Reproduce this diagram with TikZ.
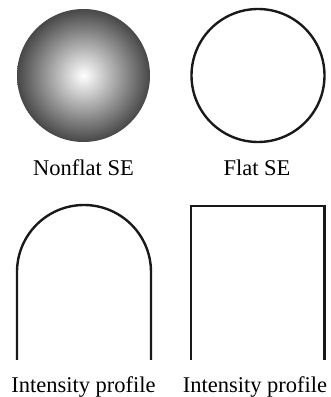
\documentclass[tikz,border=0pt]{standalone}
\usepackage{fontspec}
\setmainfont{Liberation Serif}
\pgfdeclareradialshading{sesphere}{\pgfpoint{0bp}{0bp}}{color(0bp)=(white); color(25bp)=(black!72); color(50bp)=(black!72)}
\tikzset{
  profile/.style={line width=2.4pt, line cap=butt, black!90},
  caption/.style={anchor=base, font=\fontsize{22.5}{26}\selectfont, inner sep=0pt}
}

\begin{document}
\begin{tikzpicture}[x=1pt,y=1pt]
\useasboundingbox (0,0) rectangle (330,397);
% structuring elements
\shade[shading=sesphere] (83.5,321.5) circle (66.5);
\draw[profile] (258,321.5) circle (66.5);
\node[caption] (nonflat) at (83.5,221) {Nonflat SE};
\node[caption] (flat) at (257,221) {Flat SE};
% intensity profiles
\draw[profile] (17,37) -- (17,125) arc (180:0:67) -- (151,37);
\draw[profile] (191,37) -- (191,191) -- (324.5,191) -- (324.5,37);
\node[caption] (profnonflat) at (83.5,5) {Intensity profile};
\node[caption] (profflat) at (255,5) {Intensity profile};
\end{tikzpicture}
\end{document}
